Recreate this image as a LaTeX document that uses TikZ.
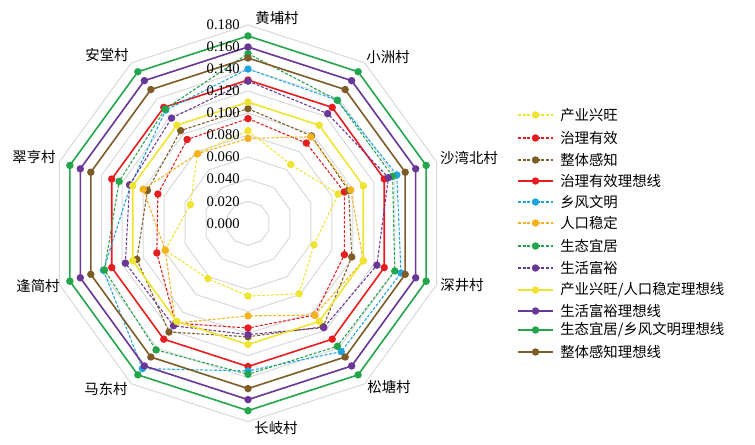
\documentclass[tikz,border=0pt]{standalone}
\usepackage{fontspec}
\setmainfont{Liberation Serif}
\newfontfamily\cjk{Noto Sans CJK SC}
\definecolor{cY}{RGB}{240,228,50}
\definecolor{cR}{RGB}{230,28,30}
\definecolor{cB}{RGB}{125,92,40}
\definecolor{cC}{RGB}{30,165,225}
\definecolor{cO}{RGB}{245,178,30}
\definecolor{cG}{RGB}{35,165,75}
\definecolor{cP}{RGB}{105,55,150}
\definecolor{cGrid}{RGB}{217,217,217}
\tikzset{
  gridln/.style={draw=cGrid, line width=0.75pt},
  dsh/.style={line width=0.8pt, dash pattern=on 2.2pt off 1.3pt},
  sol/.style={line width=1.2pt},
  lbl/.style={font=\cjk\fontsize{10.8}{12}\selectfont, inner sep=0pt},
  num/.style={font=\fontsize{11}{12}\selectfont, inner sep=0pt, anchor=east},
}
\newcommand\myradar[4]{%
  \foreach \v [count=\i from 0] in {#4} {\coordinate (#1\i) at ({90-36*\i}:\v);}
  \draw[#2,#3,line join=round] (#10)--(#11)--(#12)--(#13)--(#14)--(#15)--(#16)--(#17)--(#18)--(#19)--cycle;
  \foreach \i in {0,...,9} {\fill[#3] (#1\i) circle[radius=2.8pt];}
}
\newcommand\legitem[5]{% name, y(px), style, colour, text
  \coordinate (#1a) at (518,445-#2);
  \coordinate (#1b) at (553,445-#2);
  \coordinate (#1c) at (535.5,445-#2);
  \draw[#3,#4] (#1a) -- (#1b);
  \fill[#4] (#1c) circle[radius=2.8pt];
  \node[lbl,anchor=west] (#1t) at (560,445-#2) {#5};
}
\begin{document}
\begin{tikzpicture}[x=0.75pt,y=0.75pt]
\useasboundingbox (0,0) rectangle (755,445);
\fill[white] (0,0) rectangle (755,445);
\begin{scope}[shift={(248,221.7)},x=826.5pt,y=826.5pt]
  \foreach \k in {1,...,9} {
    \draw[gridln] (90:0.02*\k) \foreach \j in {1,...,9} {-- ({90-36*\j}:0.02*\k)} -- cycle;
  }
  \myradar{yA}{dsh}{cY}{0.084,0.066,0.086,0.063,0.079,0.066,0.062,0.079,0.055,0.078}
  \myradar{rA}{dsh}{cR}{0.095,0.090,0.092,0.092,0.103,0.095,0.112,0.087,0.086,0.094}
  \myradar{bA}{dsh}{cB}{0.104,0.098,0.096,0.099,0.116,0.103,0.122,0.106,0.096,0.104}
  \myradar{rI}{sol}{cR}{0.13,0.13,0.13,0.13,0.13,0.13,0.13,0.13,0.13,0.13}
  \myradar{cA}{dsh}{cC}{0.140,0.138,0.142,0.146,0.144,0.134,0.163,0.138,0.112,0.127}
  \myradar{oA}{dsh}{cO}{0.077,0.097,0.098,0.110,0.103,0.084,0.112,0.079,0.100,0.078}
  \myradar{gA}{dsh}{cG}{0.154,0.138,0.138,0.140,0.138,0.137,0.142,0.137,0.123,0.128}
  \myradar{pA}{dsh}{cP}{0.129,0.123,0.134,0.123,0.117,0.101,0.115,0.117,0.113,0.118}
  \myradar{yI}{sol}{cY}{0.11,0.11,0.11,0.11,0.11,0.11,0.11,0.11,0.11,0.11}
  \myradar{pI}{sol}{cP}{0.16,0.16,0.16,0.16,0.16,0.16,0.16,0.16,0.16,0.16}
  \myradar{gI}{sol}{cG}{0.17,0.17,0.17,0.17,0.17,0.17,0.17,0.17,0.17,0.17}
  \myradar{bI}{sol}{cB}{0.15,0.15,0.15,0.15,0.15,0.15,0.15,0.15,0.15,0.15}
\end{scope}
% value labels
\foreach \k/\t in {0/0.000,1/0.020,2/0.040,3/0.060,4/0.080,5/0.100,6/0.120,7/0.140,8/0.160,9/0.180}
  {\node[num] (v\k) at (240,221.7+22.04*\k) {\t};}
% axis labels
\node[lbl] (a1) at (277,427) {黄埔村};
\node[lbl] (a2) at (388,388) {小洲村};
\node[lbl] (a3) at (469,287) {沙湾北村};
\node[lbl] (a4) at (462,160) {深井村};
\node[lbl] (a5) at (389,58) {松塘村};
\node[lbl] (a6) at (276,17) {长岐村};
\node[lbl] (a7) at (106,56) {马东村};
\node[lbl] (a8) at (38,159) {逢简村};
\node[lbl] (a9) at (34,288) {翠亨村};
\node[lbl] (a10) at (107,390) {安堂村};
% legend
\legitem{L1}{115}{dsh}{cY}{产业兴旺}
\legitem{L2}{138}{dsh}{cR}{治理有效}
\legitem{L3}{160}{dsh}{cB}{整体感知}
\legitem{L4}{181}{sol}{cR}{治理有效理想线}
\legitem{L5}{202}{dsh}{cC}{乡风文明}
\legitem{L6}{223}{dsh}{cO}{人口稳定}
\legitem{L7}{246}{dsh}{cG}{生态宜居}
\legitem{L8}{268}{dsh}{cP}{生活富裕}
\legitem{L9}{290}{sol}{cY}{产业兴旺/人口稳定理想线}
\legitem{L10}{311}{sol}{cP}{生活富裕理想线}
\legitem{L11}{330}{sol}{cG}{生态宜居/乡风文明理想线}
\legitem{L12}{352}{sol}{cB}{整体感知理想线}
\end{tikzpicture}
\end{document}
